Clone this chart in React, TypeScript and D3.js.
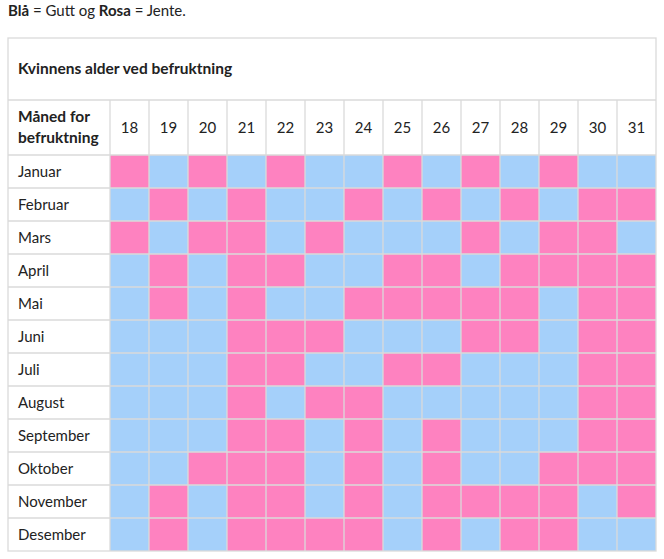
import React, { useEffect, useRef } from "react";
import * as d3 from "d3";

// G = Gutt (blå), J = Jente (rosa)
const ages = [18, 19, 20, 21, 22, 23, 24, 25, 26, 27, 28, 29, 30, 31];
const months = ["Januar", "Februar", "Mars", "April", "Mai", "Juni", "Juli", "August", "September", "Oktober", "November", "Desember"];
const januar = ["J", "G", "J", "G", "J", "G", "G", "J", "G", "J", "G", "J", "G", "G"];
const februar = ["G", "J", "G", "J", "G", "G", "J", "G", "J", "G", "J", "G", "J", "J"];
const mars = ["J", "G", "J", "J", "G", "J", "G", "G", "G", "J", "G", "J", "J", "G"];
const april = ["G", "J", "G", "J", "J", "G", "G", "J", "J", "G", "J", "J", "J", "J"];
const mai = ["G", "J", "G", "J", "G", "G", "J", "J", "J", "J", "J", "G", "J", "J"];
const juni = ["G", "G", "G", "J", "J", "J", "G", "G", "G", "J", "J", "G", "J", "J"];
const juli = ["G", "G", "G", "J", "J", "G", "G", "J", "J", "G", "G", "G", "J", "J"];
const august = ["G", "G", "G", "J", "G", "J", "J", "G", "G", "G", "G", "G", "J", "J"];
const september = ["G", "G", "G", "J", "J", "G", "J", "G", "J", "G", "G", "G", "J", "J"];
const oktober = ["G", "G", "J", "J", "J", "G", "J", "G", "J", "G", "G", "J", "J", "J"];
const november = ["G", "J", "G", "J", "J", "G", "J", "G", "J", "J", "J", "J", "G", "J"];
const desember = ["G", "J", "G", "J", "J", "J", "J", "G", "J", "G", "J", "J", "G", "G"];
const grid = [januar, februar, mars, april, mai, juni, juli, august, september, oktober, november, desember];

const W = 664, H = 559;
const left = 8, right = 656, labelW = 102;
const top = 38, head1 = 62, head2 = 55, rowH = 33;
const font = "Lato, 'Open Sans', sans-serif";
const pink = "#fe82c0", blue = "#a5d0fa", line = "#dadada", ink = "#222";

export default function App() {
  const ref = useRef<SVGSVGElement>(null);

  useEffect(() => {
    const svg = d3.select(ref.current);
    svg.selectAll("*").remove();

    const gridTop = top + head1 + head2;
    const x = d3.scaleBand<number>().domain(ages).range([left + labelW, right]);
    const y = d3.scaleBand<string>().domain(months).range([gridTop, gridTop + rowH * months.length]);
    const bottom = y.range()[1];

    // legend line
    const legend = svg.append("text").attr("x", 8).attr("y", 16).attr("font-family", font).attr("font-size", 15).attr("fill", ink);
    legend.append("tspan").attr("font-weight", "bold").text("Blå");
    legend.append("tspan").text(" = Gutt og ");
    legend.append("tspan").attr("font-weight", "bold").text("Rosa");
    legend.append("tspan").text(" = Jente.");

    // cells
    const cells = grid.flatMap((row, i) => row.map((v, j) => ({ month: months[i], age: ages[j], v })));
    svg.append("g").selectAll("rect").data(cells).join("rect")
      .attr("x", d => x(d.age)!)
      .attr("y", d => y(d.month)!)
      .attr("width", x.bandwidth())
      .attr("height", y.bandwidth())
      .attr("fill", d => (d.v === "J" ? pink : blue));

    // grid lines
    const g = svg.append("g").attr("stroke", line).attr("stroke-width", 1.3).attr("fill", "none");
    g.append("rect").attr("x", left).attr("y", top).attr("width", right - left).attr("height", bottom - top);
    g.append("line").attr("x1", left).attr("x2", right).attr("y1", top + head1).attr("y2", top + head1);
    months.forEach(m => {
      g.append("line").attr("x1", left).attr("x2", right).attr("y1", y(m)!).attr("y2", y(m)!);
    });
    ages.forEach(a => {
      g.append("line").attr("x1", x(a)!).attr("x2", x(a)!).attr("y1", top + head1).attr("y2", bottom);
    });

    // header texts
    svg.append("text").attr("x", left + 10).attr("y", top + head1 / 2 + 5)
      .attr("font-family", font).attr("font-size", 15.5).attr("font-weight", "bold").attr("fill", ink)
      .text("Kvinnens alder ved befruktning");
    const h2 = svg.append("text").attr("font-family", font).attr("font-size", 15.5).attr("font-weight", "bold").attr("fill", ink);
    h2.append("tspan").attr("x", left + 10).attr("y", top + head1 + 22).text("Måned for");
    h2.append("tspan").attr("x", left + 10).attr("y", top + head1 + 43).text("befruktning");

    svg.append("g").selectAll("text").data(ages).join("text")
      .attr("x", d => x(d)! + x.bandwidth() / 2)
      .attr("y", top + head1 + head2 / 2 + 5)
      .attr("text-anchor", "middle")
      .attr("font-family", font).attr("font-size", 15).attr("fill", ink)
      .text(d => d);

    svg.append("g").selectAll("text").data(months).join("text")
      .attr("x", left + 10)
      .attr("y", d => y(d)! + y.bandwidth() / 2 + 5)
      .attr("font-family", font).attr("font-size", 15).attr("fill", ink)
      .text(d => d);
  }, []);

  return <svg ref={ref} width={W} height={H} style={{ position: "absolute", left: 0, top: 0 }} />;
}
